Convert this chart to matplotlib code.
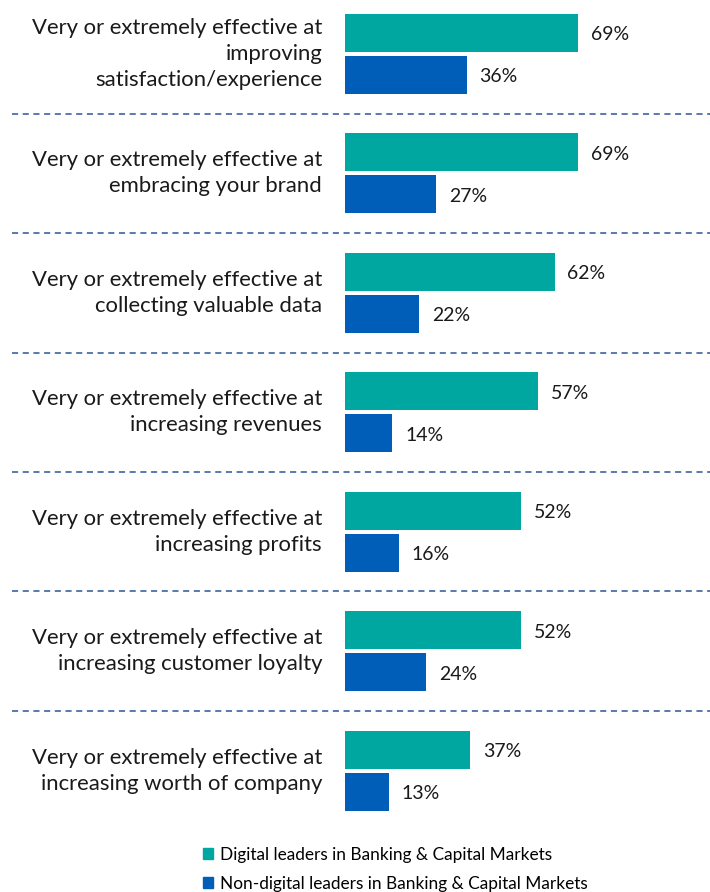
import matplotlib
matplotlib.use('Agg')
import matplotlib.pyplot as plt
from matplotlib.patches import Patch

categories = [
    'Very or extremely effective at\nimproving\nsatisfaction/experience',
    'Very or extremely effective at\nembracing your brand',
    'Very or extremely effective at\ncollecting valuable data',
    'Very or extremely effective at\nincreasing revenues',
    'Very or extremely effective at\nincreasing profits',
    'Very or extremely effective at\nincreasing customer loyalty',
    'Very or extremely effective at\nincreasing worth of company',
]
digital = [69, 69, 62, 57, 52, 52, 37]
non_digital = [36, 27, 22, 14, 16, 24, 13]
series_names = ['Digital leaders in Banking & Capital Markets',
                'Non-digital leaders in Banking & Capital Markets']

TEAL = '#00A6A0'
BLUE = '#005EB8'
plt.rcParams['font.family'] = ['Lato', 'DejaVu Sans']

W, H = 710, 892
fig = plt.figure(figsize=(W / 100, H / 100), dpi=100)
# bars start at x=345px, ~3.38 px per percent
ax = fig.add_axes([345 / W, (H - 830) / H, (W - 345) / W, 830 / H])
ax.set_xlim(0, (W - 345) / 3.38)
ax.set_ylim(6.496, -0.45)
ax.axis('off')

ys = range(len(categories))
off = 0.174
bh = 0.318
ax.barh([y - off for y in ys], digital, height=bh, color=TEAL)
ax.barh([y + off for y in ys], non_digital, height=bh, color=BLUE)

for y, d, n, lab in zip(ys, digital, non_digital, categories):
    ax.text(d + 3.8, y - off + 0.015, f'{d}%', va='center', ha='left', fontsize=14, color='#1a1a1a')
    ax.text(n + 3.8, y + off + 0.02, f'{n}%', va='center', ha='left', fontsize=14, color='#1a1a1a')
    ax.text(-6.8, y, lab, va='center', ha='right', fontsize=15.9, color='#1a1a1a',
            linespacing=1.37)

for y in range(len(categories) - 1):
    ax.axhline(y + 0.5, xmin=(12 - 345) / (W - 345), xmax=1, color='#2F5597',
               lw=1.1, ls=(0, (4, 3)), clip_on=False)

handles = [Patch(color=TEAL), Patch(color=BLUE)]
fig.legend(handles, series_names, loc='upper left', bbox_to_anchor=(203 / W, 1 - 847 / H),
           frameon=False, fontsize=12.4, handlelength=0.6, handleheight=0.6,
           handletextpad=0.4, labelspacing=0.73, borderpad=0, borderaxespad=0)

fig.savefig('out.png', dpi=100)
